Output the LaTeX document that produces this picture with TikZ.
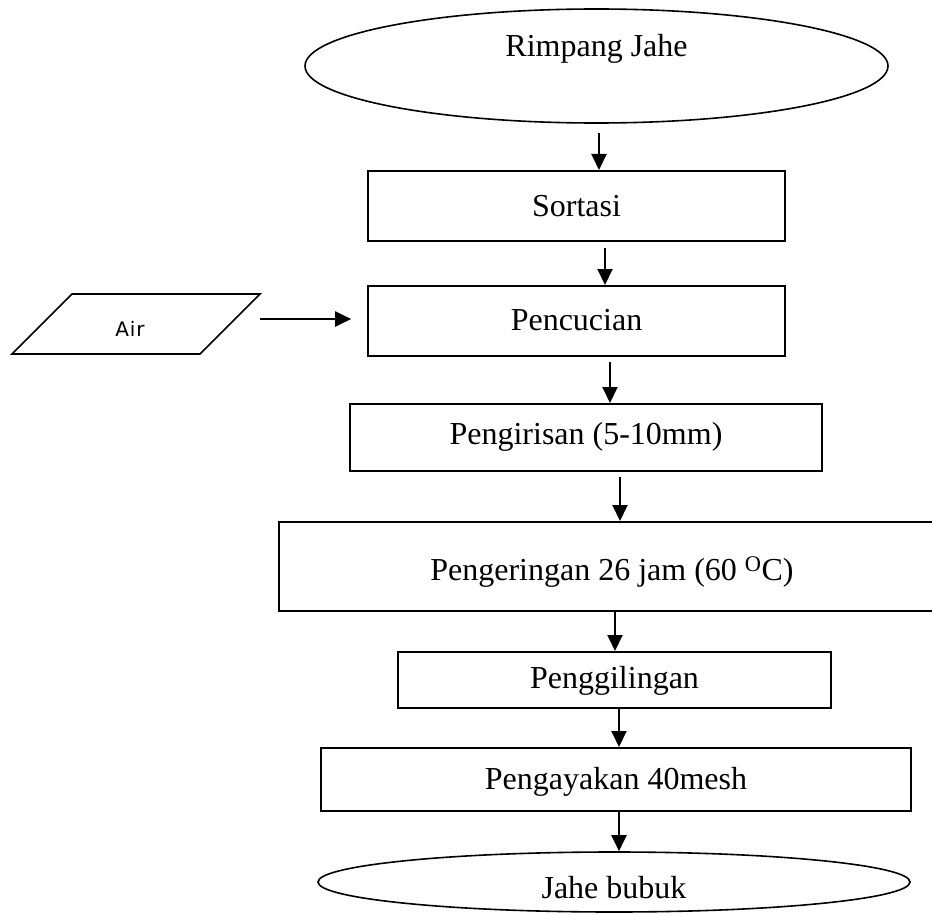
\documentclass[tikz,border=0pt]{standalone}
\usepackage{fontspec}
\setmainfont{Liberation Serif}
\newfontfamily\airfont[LetterSpace=4]{DejaVu Sans}
\usetikzlibrary{arrows.meta,shapes.geometric}

\begin{document}
\begin{tikzpicture}[>={Triangle[width=15pt,length=16pt]}, x=1pt, y=-1pt,
        font=\fontsize{32}{38}\selectfont,
        proses/.style={draw, line width=1.6pt, anchor=north, inner sep=0pt},
        ujung/.style={draw, line width=1.6pt, ellipse, inner sep=0pt},
        garis/.style={line width=1.6pt, line join=miter},
        alur/.style={->, line width=2pt}]
    \useasboundingbox (0,0) rectangle (932,915);

    % bahan awal dan hasil akhir
    \node[ujung, minimum width=583pt, minimum height=114pt, text height=22pt, text depth=40pt]
        (start) at (596.5,66) {Rimpang Jahe};
    \node[ujung, minimum width=592pt, minimum height=60pt, text height=36pt, text depth=4pt]
        (stop) at (614,882) {Jahe bubuk};

    % tahap proses
    \node[proses, minimum width=417pt, text height=46pt, text depth=24pt] (sortasi) at (576.5,170) {Sortasi};
    \node[proses, minimum width=417pt, text height=45pt, text depth=25pt] (pencucian) at (576.5,285) {Pencucian};
    \node[proses, minimum width=472pt, text height=41pt, text depth=26pt] (pengirisan) at (586,403) {Pengirisan (5-10mm)};
    \node[proses, minimum width=666pt, text height=59pt, text depth=30pt] (pengeringan) at (612,521)
        {Pengeringan 26 jam (60 \textsuperscript{O}C)};
    \node[proses, minimum width=433pt, text height=37pt, text depth=19pt] (penggilingan) at (614.5,651) {Penggilingan};
    \node[proses, minimum width=590pt, text height=42pt, text depth=21pt] (pengayakan) at (616,747) {Pengayakan 40mesh};

    % air pencuci
    \draw[garis] (12,354) -- (72,294) -- (260,294) -- (200,354) -- cycle;
    \node[font=\airfont\fontsize{20}{24}\selectfont] (air) at (130,329) {Air};
    \coordinate (airkeluar) at (260,319);
    \draw[alur, shorten >=16pt] (airkeluar) -- (airkeluar -| pencucian.west);

    \foreach \a/\b/\ax/\celah in {start/sortasi/599/9, sortasi/pencucian/605/6,
            pencucian/pengirisan/610/5, pengirisan/pengeringan/620/5,
            pengeringan/penggilingan/615/0, penggilingan/pengayakan/619/0,
            pengayakan/stop/619/0}{
        \draw[alur, shorten <=\celah pt] (\ax,0 |- \a.south) -- (\ax,0 |- \b.north);
    }
\end{tikzpicture}
\end{document}
